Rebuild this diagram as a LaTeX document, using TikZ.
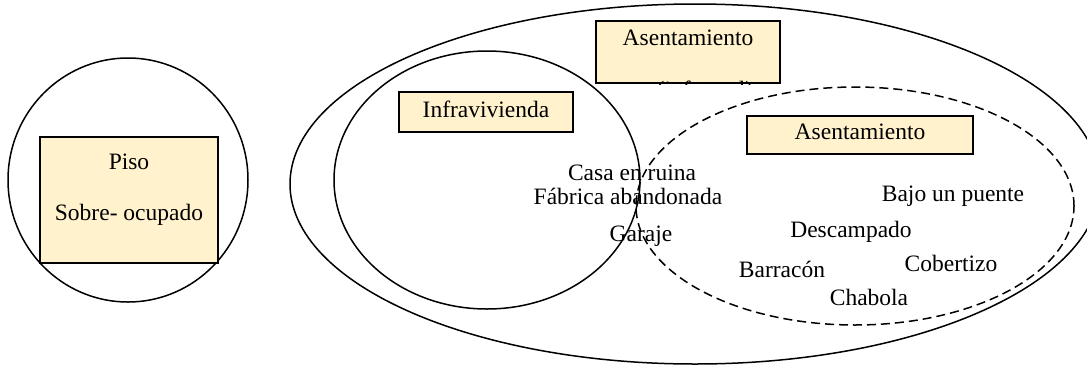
\documentclass[tikz,border=0pt]{standalone}
\usepackage{fontspec}
\setmainfont{Liberation Serif}
\usetikzlibrary{positioning}

\begin{document}
\begin{tikzpicture}[x=1pt,y=-1pt,line width=1.5pt,
  every node/.style={font=\fontsize{23.5}{26}\selectfont,inner sep=0pt},
  labelbox/.style={draw,fill=boxfill,line width=2pt},
  texto/.style={anchor=base},
  grupo/.style={draw,line width=1.5pt}]
\definecolor{boxfill}{RGB}{255,242,204}
\useasboundingbox (0,0) rectangle (1087,365);
% conjuntos
\draw[grupo] (128,180) ellipse [x radius=120pt,y radius=122pt];
\draw[grupo] (695,184) ellipse [x radius=405pt,y radius=180pt];
\draw[grupo] (487,180) ellipse [x radius=153pt,y radius=129pt];
\draw[grupo,dash pattern=on 9pt off 5pt] (855,206) ellipse [x radius=219pt,y radius=119pt];
% etiquetas
\node[labelbox,minimum width=178pt,minimum height=126pt] (piso) at (129,200) {};
\node[texto] (pisoA) at (129,169) {Piso};
\node[texto] (pisoB) at (129,220) {Sobre- ocupado};
\node[labelbox,minimum width=184pt,minimum height=62pt] (asentI) at (688,52) {};
\node[texto] (asentIt) at (688,45) {Asentamiento};
\begin{scope}
  \clip (asentI.south west) rectangle (asentI.north east);
  \node[texto] (asentIs) at (705,97) {(informal)};
\end{scope}
\node[labelbox,minimum width=174pt,minimum height=40pt] (infra) at (486,112) {};
\node[texto] (infrat) at (486,117) {Infravivienda};
\node[labelbox,minimum width=226pt,minimum height=38pt] (asentII) at (860,135) {};
\node[texto] (asentIIt) at (860,139) {Asentamiento};
% ejemplos
\node[texto] (casa) at (632,180) {Casa en ruina};
\node[texto] (fabrica) at (628,204) {Fábrica abandonada};
\node[texto] (garaje) at (641,241) {Garaje};
\node[texto] (puente) at (953,201) {Bajo un puente};
\node[texto] (descampado) at (851,237) {Descampado};
\node[texto] (cobertizo) at (951,271) {Cobertizo};
\node[texto] (barracon) at (782,277) {Barracón};
\node[texto] (chabola) at (869,305) {Chabola};
\end{tikzpicture}
\end{document}
